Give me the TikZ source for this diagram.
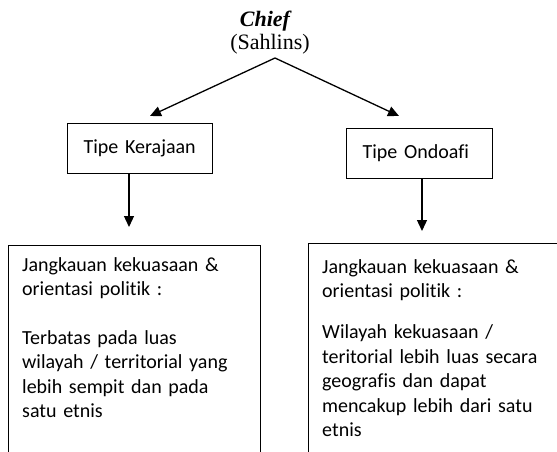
\documentclass[tikz,border=0pt]{standalone}
\usepackage{fontspec}
\setmainfont{Carlito}[Ligatures={NoCommon,NoRare,NoContextual}]
\newfontfamily\timesf{Liberation Serif}
\usetikzlibrary{arrows.meta}
\tikzset{
  ln/.style={line width=1.3pt, draw=black},
  arr/.style={ln, -{Triangle[length=11pt,width=10pt]}},
  smallbox/.style={ln, anchor=north west, minimum height=50pt, inner xsep=16pt, inner ysep=0pt, align=left, font=\fontsize{20}{24.4}\selectfont},
  bigbox/.style={ln, anchor=north west, minimum height=240pt, inner sep=0pt},
  bodytext/.style={anchor=base west, inner sep=0pt, text width=240pt, align=left, font=\fontsize{20}{24.4}\selectfont},
  serif/.style={anchor=base, inner sep=0pt, font=\timesf\fontsize{22}{26}\selectfont}
}
\begin{document}
\begin{tikzpicture}[x=1pt, y=-1pt]
\useasboundingbox (0,0) rectangle (557,452);
\clip (0,0) rectangle (557,452);
\fill[white] (0,0) rectangle (557,452);

\node[serif, font=\timesf\fontsize{22}{26}\selectfont\bfseries\itshape] (chief) at (265,27) {Chief};
\node[serif] (sahlins) at (270,50) {(Sahlins)};
\coordinate (apex) at (275,58);

\node[smallbox, text width=113pt] (lk) at (67,123) {Tipe Kerajaan};
\node[smallbox, text width=114pt] (rk) at (346,128) {Tipe Ondoafi};

\coordinate (lktip) at (150,116);
\coordinate (rktip) at (399,116);
\draw[arr] (apex) -- (lktip);
\draw[arr] (apex) -- (rktip);

\node[bigbox, minimum width=252pt] (lbox) at (8,245) {};
\node[bigbox, minimum width=270pt] (rbox) at (308,243) {};

\coordinate (ltip) at (129,227);
\coordinate (rtip) at (422,231);
\draw[arr] (lk.south -| ltip) -- (ltip);
\draw[arr] (rk.south -| rtip) -- (rtip);

\node[bodytext] (ltext) at (22,271) {Jangkauan kekuasaan \&\\orientasi politik :\\[24.4pt]Terbatas pada luas\\wilayah / territorial yang\\lebih sempit dan pada\\satu etnis};
\node[bodytext] (rtext) at (322,273) {Jangkauan kekuasaan \&\\orientasi politik :\\[17pt]Wilayah kekuasaan /\\teritorial lebih luas secara\\geografis dan dapat\\mencakup lebih dari satu\\etnis};
\end{tikzpicture}
\end{document}
